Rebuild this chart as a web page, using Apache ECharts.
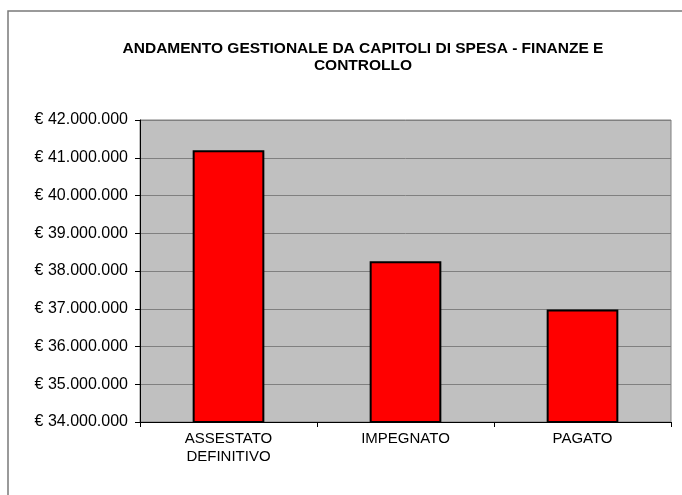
<!DOCTYPE html>
<html lang="it">
<head>
  <meta charset="UTF-8">
  <title>Andamento gestionale</title>
  <style>
    html, body { margin: 0; padding: 0; background: #fff; }
    #chart { width: 682px; height: 495px; }
  </style>
  <script src="https://cdn.jsdelivr.net/npm/echarts@6/dist/echarts.min.js"></script>
</head>
<body>
  <div id="chart"></div>
  <script>
    // dati
    var categorie = ['ASSESTATO\nDEFINITIVO', 'IMPEGNATO', 'PAGATO'];
    var importi = [41200000, 38260000, 36980000];
    var titolo = 'ANDAMENTO GESTIONALE DA CAPITOLI DI SPESA - FINANZE E\nCONTROLLO';

    function euro(v) {
      return '€ ' + String(v).replace(/\B(?=(\d{3})+(?!\d))/g, '.');
    }

    var myChart = echarts.init(document.getElementById('chart'));
    var option = {
      animation: false,
      backgroundColor: '#fff',
      title: {
        text: titolo,
        left: 358,
        top: 35,
        textAlign: 'center',
        textStyle: {
          fontFamily: 'Liberation Sans',
          fontSize: 15.5,
          fontWeight: 'bold',
          color: '#000',
          lineHeight: 17
        }
      },
      graphic: [{
        type: 'rect',
        shape: { x: 8, y: 11, width: 700, height: 520 },
        style: { fill: 'none', stroke: '#7a7a7a', lineWidth: 1.5 },
        silent: true
      }],
      grid: {
        left: 140,
        right: 11,
        top: 120,
        bottom: 73,
        show: true,
        backgroundColor: '#c0c0c0',
        borderColor: '#808080',
        borderWidth: 1
      },
      xAxis: {
        type: 'category',
        data: categorie,
        axisLine: { lineStyle: { color: '#000', width: 1 } },
        axisTick: { show: true, length: 5, lineStyle: { color: '#000' } },
        axisLabel: {
          margin: 8,
          fontFamily: 'Liberation Sans',
          fontSize: 15,
          lineHeight: 18,
          color: '#000'
        }
      },
      yAxis: {
        type: 'value',
        min: 34000000,
        max: 42000000,
        interval: 1000000,
        axisLine: { show: true, lineStyle: { color: '#000', width: 1 } },
        axisTick: { show: true, length: 5, lineStyle: { color: '#000' } },
        splitLine: { lineStyle: { color: '#808080', width: 1 } },
        axisLabel: {
          margin: 12,
          fontFamily: 'Liberation Sans',
          fontSize: 16,
          color: '#000',
          formatter: euro
        }
      },
      series: [{
        type: 'bar',
        data: importi,
        barWidth: '40.5%',
        itemStyle: {
          color: '#ff0000',
          borderColor: '#000',
          borderWidth: 2
        }
      }]
    };
    myChart.setOption(option);
  </script>
</body>
</html>
